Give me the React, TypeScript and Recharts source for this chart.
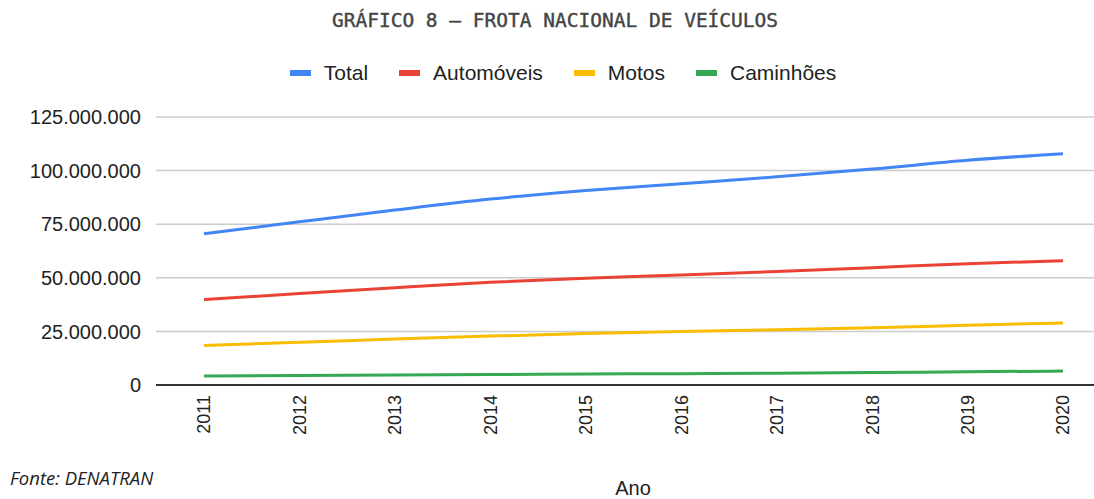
import React from 'react';
import { LineChart, Line, XAxis, YAxis, CartesianGrid } from 'recharts';

const anos = ['2011', '2012', '2013', '2014', '2015', '2016', '2017', '2018', '2019', '2020'];
const total = [70500000, 76100000, 81600000, 86700000, 90700000, 93900000, 97100000, 100700000, 104800000, 107900000];
const automoveis = [39800000, 42700000, 45400000, 47900000, 49800000, 51300000, 52900000, 54700000, 56600000, 58000000];
const motos = [18400000, 19900000, 21400000, 22800000, 24000000, 25000000, 25800000, 26700000, 27900000, 28900000];
const caminhoes = [4200000, 4400000, 4700000, 4900000, 5100000, 5300000, 5500000, 5800000, 6200000, 6500000];
const yTicks = [0, 25000000, 50000000, 75000000, 100000000, 125000000];

const series = [
  { key: 'total', name: 'Total', color: '#4285f4' },
  { key: 'automoveis', name: 'Automóveis', color: '#ea4335' },
  { key: 'motos', name: 'Motos', color: '#fbbc04' },
  { key: 'caminhoes', name: 'Caminhões', color: '#34a853' },
];

const data = anos.map((ano, i) => ({
  ano,
  total: total[i],
  automoveis: automoveis[i],
  motos: motos[i],
  caminhoes: caminhoes[i],
}));

const fmt = (v: number) => String(v).replace(/\B(?=(\d{3})+(?!\d))/g, '.');

const font = 'Arial, "Liberation Sans", sans-serif';

const YearTick = ({ x, y, payload }: any) => (
  <g transform={`translate(${x},${y})`}>
    <text
      transform="rotate(-90)"
      x={-2}
      y={0}
      dy="0.36em"
      textAnchor="end"
      fill="#222"
      fontSize={18}
      fontFamily={font}
    >
      {payload.value}
    </text>
  </g>
);

const LegendBox = () => (
  <div style={{ display: 'flex', justifyContent: 'center', alignItems: 'center', fontFamily: font, fontSize: 21, color: '#222' }}>
    {series.map((s) => (
      <div key={s.key} style={{ display: 'flex', alignItems: 'center', margin: '0 15.5px' }}>
        <span style={{ width: 21, height: 6, background: s.color, marginRight: 13, display: 'inline-block' }} />
        <span>{s.name}</span>
      </div>
    ))}
  </div>
);

export default function App() {
  return (
    <div style={{ position: 'absolute', left: 0, top: 0, width: 1094, height: 499, background: '#fff' }}>
      <div
        style={{
          position: 'absolute', top: 9, left: 8, width: 1094, textAlign: 'center',
          fontFamily: '"DejaVu Sans Mono", monospace', fontSize: 19.5, color: '#444',
          WebkitTextStroke: '0.4px #444',
        }}
      >
        GRÁFICO 8 – FROTA NACIONAL DE VEÍCULOS
      </div>
      <div style={{ position: 'absolute', top: 61, left: 16, width: 1094 }}>
        <LegendBox />
      </div>
      <LineChart width={1094} height={499} data={data} margin={{ top: 117, right: 0, bottom: 0, left: 0 }}>
        <CartesianGrid vertical={false} stroke="#cccccc" strokeWidth={1.5} />
        <XAxis
          dataKey="ano"
          padding={{ left: 48, right: 31 }}
          axisLine={{ stroke: '#333', strokeWidth: 2 }}
          tickLine={false}
          tick={<YearTick />}
          interval={0}
          height={114}
        />
        <YAxis
          width={156}
          domain={[0, 125000000]}
          ticks={yTicks}
          tickFormatter={fmt}
          axisLine={false}
          tickLine={false}
          tickSize={0}
          tickMargin={15}
          tick={{ fill: '#222', fontSize: 20, fontFamily: font }}
        />
        {series.map((s) => (
          <Line
            key={s.key}
            type="monotone"
            dataKey={s.key}
            name={s.name}
            stroke={s.color}
            strokeWidth={3}
            dot={false}
            isAnimationActive={false}
          />
        ))}
      </LineChart>
      <div style={{ position: 'absolute', left: 633, top: 477, transform: 'translateX(-50%)', fontFamily: font, fontSize: 20, color: '#222' }}>
        Ano
      </div>
      <div style={{ position: 'absolute', left: 10, top: 465, fontFamily: '"Open Sans", sans-serif', fontStyle: 'italic', fontSize: 18.5, color: '#222' }}>
        Fonte: DENATRAN
      </div>
    </div>
  );
}
